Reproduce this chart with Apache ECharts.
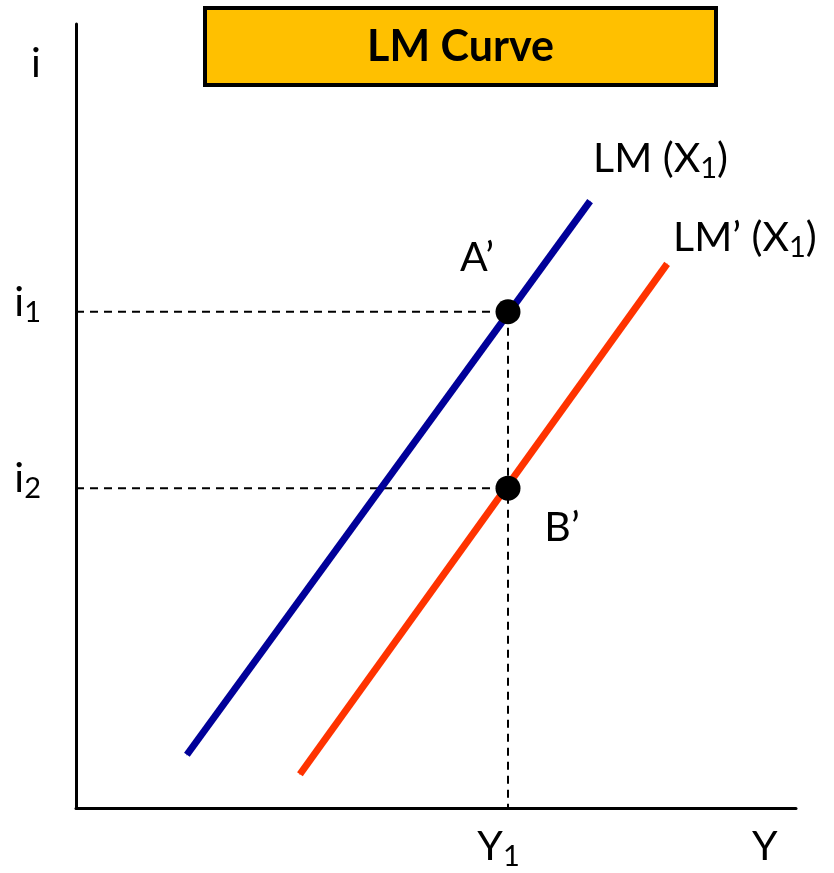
<!DOCTYPE html>
<html>
<head>
<meta charset="utf-8">
<script src="https://cdn.jsdelivr.net/npm/echarts@6/dist/echarts.min.js"></script>
<style>
  html, body { margin: 0; padding: 0; background: #ffffff; }
  #chart { width: 834px; height: 873px; }
</style>
</head>
<body>
<div id="chart"></div>
<script>
// LM curve shift: two upward-sloping LM schedules and the equilibrium points at income Y1
const chartTitle = 'LM Curve';
const incomeY1 = 60;          // Y1 on the income axis (0-100 scale)
const rateI1 = 63.3;          // i1 on the interest-rate axis
const rateI2 = 40.8;          // i2 on the interest-rate axis
const lmCurve = [[15.4, 6.8], [71.4, 77.4]];
const lmShiftedCurve = [[31.1, 4.3], [82.1, 69.4]];
const curveNames = ['LM', 'LM’'];
const curveArgMain = 'X';
const curveArgSub = '1';
const pointNames = ['A’', 'B’'];
const yTickValues = [rateI1, rateI2];
const yTickMain = ['i', 'i'];
const yTickSub = ['1', '2'];
const xTickValues = [incomeY1];
const xTickMain = ['Y'];
const xTickSub = ['1'];
const yAxisName = 'i';
const xAxisName = 'Y';

const FONT = 'Lato';
const BLUE = '#000099';
const RED = '#FF3300';

const rich = {
  m: { fontFamily: FONT, fontSize: 41, lineHeight: 48, color: '#000' },
  s: { fontFamily: FONT, fontSize: 29, lineHeight: 6, verticalAlign: 'bottom', color: '#000' }
};

function subText(main, sub, tail) {
  return '{m|' + main + '}{s|' + sub + '}' + (tail ? '{m|' + tail + '}' : '');
}

function curveSeries(points, name, color, labelOffset) {
  const last = points.length - 1;
  return {
    type: 'line',
    name: name,
    z: 3,
    silent: true,
    symbol: 'circle',
    symbolSize: 1,
    showSymbol: true,
    itemStyle: { color: color },
    lineStyle: { color: color, width: 7, cap: 'butt' },
    data: points.map(function (p, i) {
      if (i !== last) return p;
      return {
        value: p,
        label: {
          show: true,
          position: 'inside',
          align: 'left',
          verticalAlign: 'middle',
          offset: labelOffset,
          formatter: subText(name + ' (' + curveArgMain, curveArgSub, ')'),
          rich: rich
        }
      };
    })
  };
}

const dashStyle = { color: '#000', width: 2, type: [8, 6] };
const pointOffsets = [[-31, -54], [54, 40]];

const option = {
  animation: false,
  backgroundColor: '#ffffff',
  grid: { left: 76, right: 38, top: 24, bottom: 65, outerBoundsMode: 'none', containLabel: false },
  xAxis: {
    type: 'value',
    min: 0,
    max: 100,
    axisLine: { show: true, onZero: false, lineStyle: { color: '#000', width: 3 } },
    axisTick: { show: false },
    splitLine: { show: false },
    axisLabel: {
      customValues: xTickValues,
      margin: 15,
      padding: [0, 19, 0, 0],
      formatter: function (v) {
        const k = xTickValues.indexOf(v);
        return k < 0 ? '' : subText(xTickMain[k], xTickSub[k]);
      },
      rich: rich
    },
    name: xAxisName,
    nameLocation: 'end',
    nameGap: -44,
    nameTextStyle: {
      fontFamily: FONT, fontSize: 41, color: '#000',
      verticalAlign: 'top', lineHeight: 78
    }
  },
  yAxis: {
    type: 'value',
    min: 0,
    max: 100,
    axisLine: { show: true, onZero: false, lineStyle: { color: '#000', width: 3 } },
    axisTick: { show: false },
    splitLine: { show: false },
    axisLabel: {
      customValues: yTickValues,
      margin: 35,
      padding: [0, 0, 18, 0],
      formatter: function (v) {
        const k = yTickValues.indexOf(v);
        return k < 0 ? '' : subText(yTickMain[k], yTickSub[k]);
      },
      rich: rich
    },
    name: yAxisName,
    nameLocation: 'end',
    nameGap: -60,
    nameTextStyle: { fontFamily: FONT, fontSize: 41, color: '#000', padding: [0, 80, 0, 0] }
  },
  graphic: [
    {
      type: 'rect',
      z: 10,
      shape: { x: 205, y: 8, width: 511, height: 77 },
      style: { fill: '#FFC000', stroke: '#000', lineWidth: 4 }
    },
    {
      type: 'text',
      z: 11,
      x: 460.5,
      y: 47,
      style: {
        text: chartTitle,
        fontFamily: FONT,
        fontSize: 43,
        fontWeight: 'bold',
        fill: '#000',
        align: 'center',
        verticalAlign: 'middle'
      }
    }
  ],
  series: [
    {
      type: 'line',
      z: 1,
      silent: true,
      symbol: 'none',
      lineStyle: dashStyle,
      data: [[0, rateI1], [incomeY1, rateI1], [incomeY1, 0]]
    },
    {
      type: 'line',
      z: 1,
      silent: true,
      symbol: 'none',
      lineStyle: dashStyle,
      data: [[0, rateI2], [incomeY1, rateI2]]
    },
    curveSeries(lmCurve, curveNames[0], BLUE, [3, -42]),
    curveSeries(lmShiftedCurve, curveNames[1], RED, [6, -26]),
    {
      type: 'scatter',
      z: 5,
      silent: true,
      symbolSize: 25,
      itemStyle: { color: '#000', opacity: 1 },
      data: [[incomeY1, rateI1], [incomeY1, rateI2]].map(function (p, i) {
        return {
          value: p,
          label: {
            show: true,
            position: 'inside',
            align: 'center',
            verticalAlign: 'middle',
            offset: pointOffsets[i],
            formatter: pointNames[i],
            fontFamily: FONT,
            fontSize: 41,
            color: '#000',
            opacity: 1
          }
        };
      })
    }
  ]
};

const chart = echarts.init(document.getElementById('chart'), null, { renderer: 'canvas' });
chart.setOption(option);
</script>
</body>
</html>
